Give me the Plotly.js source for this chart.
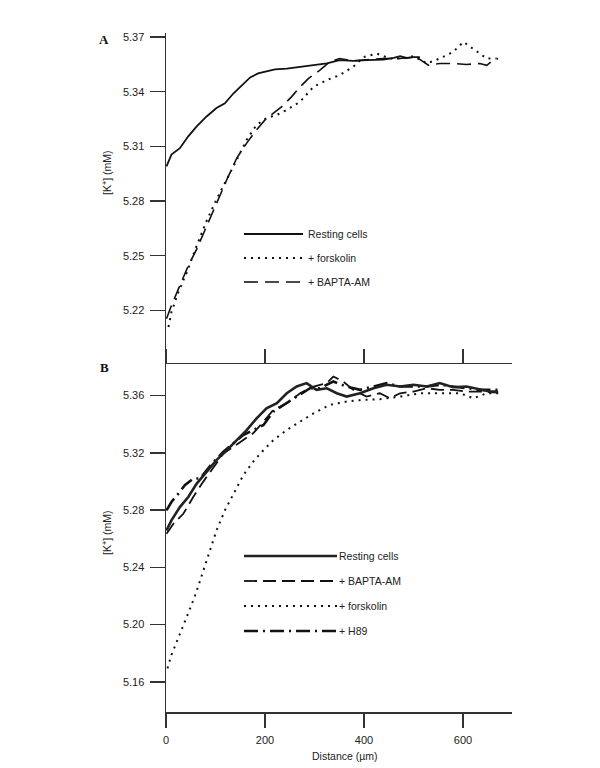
<!DOCTYPE html>
<html>
<head>
<meta charset="utf-8">
<script src="https://cdn.plot.ly/plotly-3.0.1.min.js"></script>
<style>
  html, body { margin: 0; padding: 0; background: #fff; }
  #chart { width: 600px; height: 768px; }
</style>
</head>
<body>
<div id="chart"></div>
<script>
// Panel A: distance (um) vs [K+] (mM)
const restA_x = [1, 11, 28, 45, 62, 82, 102, 119, 136, 153, 170, 186, 203, 220, 244, 271, 298, 325, 351, 378, 405, 439, 460, 473, 486, 500, 513];
const restA_y = [5.299, 5.3055, 5.309, 5.3155, 5.321, 5.3264, 5.331, 5.3336, 5.339, 5.3436, 5.3478, 5.350, 5.3509, 5.3522, 5.3527, 5.3536, 5.3549, 5.3555, 5.3573, 5.3569, 5.3573, 5.3576, 5.3585, 5.3595, 5.3585, 5.359, 5.359];

const forskA_x = [5, 11, 25, 42, 62, 82, 102, 123, 143, 163, 183, 203, 224, 244, 271, 298, 325, 351, 378, 399, 426, 452, 480, 500, 527, 553, 580, 601, 628, 648, 668];
const forskA_y = [5.2109, 5.2191, 5.230, 5.2409, 5.2555, 5.2691, 5.2809, 5.2918, 5.3027, 5.3136, 5.3218, 5.3255, 5.3273, 5.330, 5.3345, 5.3427, 5.3464, 5.3491, 5.3536, 5.359, 5.3609, 5.3582, 5.3582, 5.3595, 5.3555, 5.3582, 5.3618, 5.3673, 5.3618, 5.3582, 5.3582];

const baptaA_x = [1, 11, 28, 45, 62, 82, 102, 123, 143, 163, 183, 200, 217, 234, 254, 271, 288, 311, 331, 351, 378, 405, 439, 473, 506, 530, 553, 580, 607, 634, 648, 661, 671];
const baptaA_y = [5.2155, 5.2227, 5.2336, 5.2445, 5.2536, 5.2664, 5.2782, 5.2918, 5.3036, 5.3118, 5.3191, 5.3245, 5.3282, 5.3318, 5.3373, 5.3427, 5.3473, 5.3518, 5.3564, 5.3582, 5.3569, 5.3576, 5.3582, 5.3582, 5.359, 5.3545, 5.3555, 5.3555, 5.3549, 5.3555, 5.3545, 5.3573, 5.3582];

// Panel B
const restB_x = [1, 11, 28, 45, 62, 82, 102, 123, 143, 163, 183, 203, 224, 244, 264, 284, 304, 325, 345, 365, 392, 419, 446, 473, 500, 527, 553, 580, 607, 634, 654, 671];
const restB_y = [5.2657, 5.2728, 5.2821, 5.2891, 5.2985, 5.3067, 5.3149, 5.3219, 5.3289, 5.3359, 5.3441, 5.3511, 5.3546, 5.3616, 5.3663, 5.3687, 5.364, 5.3651, 5.3616, 5.3593, 5.3616, 5.3651, 5.3675, 5.3663, 5.3675, 5.3663, 5.3687, 5.3658, 5.3663, 5.364, 5.3628, 5.3628];

const baptaB_x = [1, 15, 35, 55, 75, 96, 116, 136, 156, 176, 197, 217, 244, 271, 298, 325, 338, 358, 378, 405, 432, 452, 473, 500, 527, 553, 580, 607, 634, 671];
const baptaB_y = [5.2634, 5.2704, 5.2774, 5.2891, 5.2997, 5.3102, 5.3195, 5.3242, 5.3289, 5.3336, 5.3418, 5.350, 5.3546, 5.3616, 5.3663, 5.3687, 5.3733, 5.3698, 5.364, 5.3593, 5.3616, 5.3581, 5.3616, 5.3628, 5.3651, 5.364, 5.364, 5.3628, 5.3628, 5.3621];

const forskB_x = [3, 11, 22, 32, 42, 52, 62, 75, 89, 102, 119, 136, 156, 176, 197, 217, 244, 271, 298, 331, 365, 399, 432, 473, 513, 553, 594, 621, 648, 671];
const forskB_y = [5.1694, 5.1788, 5.1882, 5.1965, 5.2047, 5.2141, 5.2235, 5.2377, 5.2517, 5.2657, 5.2798, 5.2915, 5.3043, 5.3137, 5.3219, 5.3289, 5.3359, 5.3418, 5.3476, 5.3535, 5.3558, 5.357, 5.3574, 5.3593, 5.3616, 5.3616, 5.3616, 5.3581, 5.3616, 5.3616];

const h89B_x = [1, 11, 25, 38, 55, 69, 82, 96, 116, 136, 156, 176, 197, 217, 237, 264, 291, 311, 338, 365, 392, 419, 446, 473, 500, 527, 553, 580, 607, 634, 671];
const h89B_y = [5.2798, 5.2856, 5.2915, 5.2973, 5.302, 5.302, 5.3078, 5.3137, 5.3207, 5.3266, 5.3324, 5.3359, 5.3394, 5.3488, 5.3535, 5.3593, 5.3651, 5.3651, 5.3698, 5.3663, 5.364, 5.3663, 5.3687, 5.3663, 5.3663, 5.3663, 5.3675, 5.3663, 5.3651, 5.364, 5.364];

const xTicks = [0, 200, 400, 600];
const yTicksA = [5.22, 5.25, 5.28, 5.31, 5.34, 5.37];
const yTicksB = [5.16, 5.20, 5.24, 5.28, 5.32, 5.36];

const legendA = ["Resting cells", "+ forskolin", "+ BAPTA-AM"];
const legendB = ["Resting cells", "+ BAPTA-AM", "+ forskolin", "+ H89"];

// styles
const DOT = "2px,5px";
const sRest = { color: "#111", width: 1.8 };
const sRestB = { color: "#222", width: 2.6 };
const sForsk = { color: "#111", width: 2, dash: DOT };
const sBapta = { color: "#111", width: 1.6, dash: "14px,7px" };
const sBaptaB = { color: "#111", width: 1.8, dash: "13px,6px" };
const sH89 = { color: "#111", width: 2.6, dash: "14px,5px,2px,5px" };

// pixel helpers (plot area: x 166..512, y 33..712)
const L = 166, R = 512, T = 33, B = 712;
const px = (v) => (v - L) / (R - L);
const py = (v) => (B - v) / (B - T);

function line(x, y, ya, style) {
  return { type: "scatter", mode: "lines", x: x, y: y, xaxis: "x", yaxis: ya,
    line: Object.assign({ shape: "linear" }, style), hoverinfo: "skip", showlegend: false };
}

const data = [
  line(restA_x, restA_y, "y", sRest),
  line(forskA_x, forskA_y, "y", sForsk),
  line(baptaA_x, baptaA_y, "y", sBapta),
  line(forskB_x, forskB_y, "y2", sForsk),
  line(baptaB_x, baptaB_y, "y2", sBaptaB),
  line(h89B_x, h89B_y, "y2", sH89),
  line(restB_x, restB_y, "y2", sRestB),
];

const font = { family: "Liberation Sans, Arial, sans-serif", size: 11, color: "#222" };
const legFont = { family: "Liberation Sans, Arial, sans-serif", size: 10.5, color: "#222" };

const shapes = [];
const annotations = [];

function note(x, y, text, f, extra) {
  annotations.push(Object.assign({ xref: "paper", yref: "paper", x: px(x), y: py(y), text: text,
    showarrow: false, xanchor: "center", yanchor: "middle", font: f }, extra || {}));
}

function legendRow(x0, x1, y, style, label, tx) {
  shapes.push({ type: "line", xref: "paper", yref: "paper", x0: px(x0), x1: px(x1), y0: py(y), y1: py(y),
    line: { color: style.color, width: style.width, dash: style.dash || "solid" } });
  note(tx, y, label, legFont, { xanchor: "left" });
}

const stylesA = [sRest, sForsk, sBapta];
legendA.forEach((t, i) => legendRow(244, 303, 234 + i * 24, stylesA[i], t, 306));
const stylesB = [sRestB, sBaptaB, sForsk, sH89];
legendB.forEach((t, i) => legendRow(244, 337, 556 + i * 25, stylesB[i], t, 337));

// axis titles and panel letters
note(106, 173, "[K<sup>+</sup>] (mM)", legFont, { textangle: -90 });
note(106, 533, "[K<sup>+</sup>] (mM)", legFont, { textangle: -90 });
note(345, 756, "Distance (µm)", legFont);
const letterFont = { family: "Liberation Serif, serif", size: 13, color: "#111" };
note(104, 40, "<b>A</b>", letterFont);
note(104, 367, "<b>B</b>", letterFont);

const axisCommon = {
  showgrid: false, zeroline: false, showline: true, linecolor: "#333", linewidth: 1.5,
  tickcolor: "#333", tickwidth: 1.5, tickfont: font, fixedrange: true,
};

const split = 0.512;
const layout = {
  width: 600, height: 768,
  margin: { l: L, r: 600 - R, t: T, b: 768 - B, pad: 0 },
  paper_bgcolor: "#fff", plot_bgcolor: "#fff",
  showlegend: false,
  // bottom axis of panel B; mirrored ticks form the upward ticks under panel A
  xaxis: Object.assign({}, axisCommon, { domain: [0, 1], anchor: "y2", range: [0, 699],
    tickvals: xTicks, ticks: "outside", ticklen: 14, ticklabelstandoff: 3, mirror: "ticks" }),
  yaxis: Object.assign({}, axisCommon, { domain: [split, 1], anchor: "x", range: [5.1904, 5.3722],
    tickvals: yTicksA, tickformat: ".2f", ticks: "outside", ticklen: 15, ticklabelstandoff: 3 }),
  yaxis2: Object.assign({}, axisCommon, { domain: [0, split], anchor: "x", range: [5.1389, 5.3818],
    tickvals: yTicksB, tickformat: ".2f", ticks: "outside", ticklen: 15, ticklabelstandoff: 3 }),
  shapes: shapes,
  annotations: annotations,
};

Plotly.newPlot("chart", data, layout, { displayModeBar: false, staticPlot: true });
</script>
</body>
</html>
